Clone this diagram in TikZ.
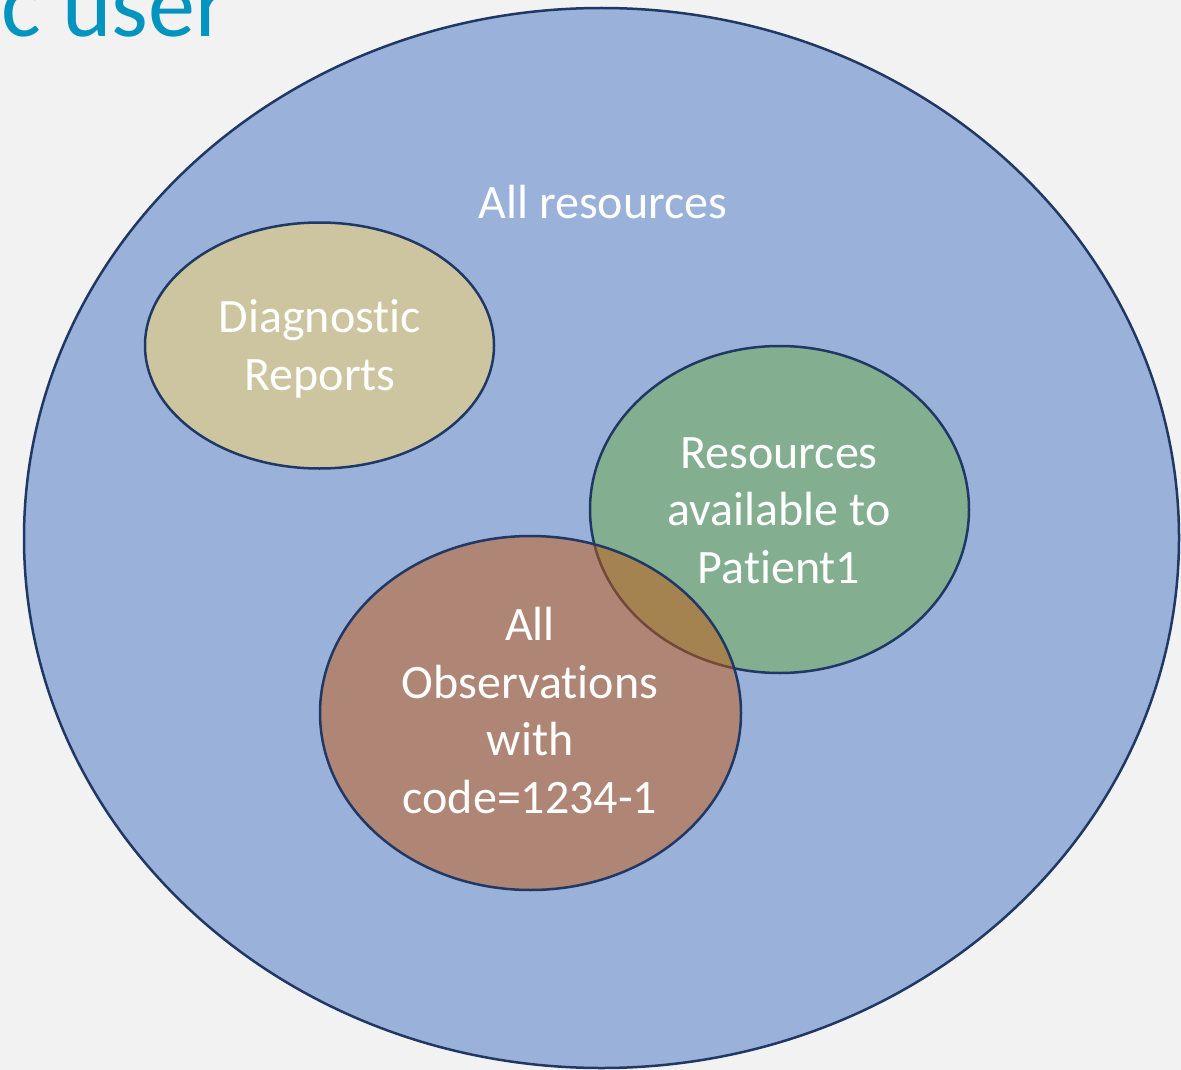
\documentclass[tikz,border=0pt]{standalone}
\usepackage{fontspec}
\setmainfont{Carlito}[Ligatures=NoCommon]
\usetikzlibrary{shapes.geometric}
\definecolor{pagebg}{HTML}{F2F2F2}
\definecolor{rimblue}{HTML}{203864}
\definecolor{setblue}{HTML}{4472C4}
\definecolor{setgold}{HTML}{FFD966}
\definecolor{setgreen}{HTML}{70AD47}
\definecolor{setorange}{HTML}{C55A11}
\definecolor{titleteal}{HTML}{0094BE}
\tikzset{
  venn/.style={ellipse, draw=rimblue, line width=2.5pt, fill opacity=0.5,
               inner sep=0pt, minimum width=#1},
  % anchored at the baseline of the last line
  setlabel/.style={text=white, font=\fontsize{48}{57.5}\selectfont,
                   align=center, inner sep=0pt, anchor=base},
}
\begin{document}
\begin{tikzpicture}[x=1pt,y=-1pt]
  % page
  \fill[pagebg] (0,0) rectangle (1181,1070);
  \useasboundingbox (0,0) rectangle (1181,1070);

  % title, running off the top edge
  \node[text=titleteal, font=\fontsize{94}{100}\selectfont, inner sep=0pt,
        anchor=base west] (title) at (1,37) {c user};

  % sets
  \node[venn=1155pt, minimum height=1060pt, fill=setblue] (all) at (601.5,538) {};
  \node[venn=349pt, minimum height=246pt, fill=setgold] (diag) at (319.5,345.5) {};
  \node[venn=379pt, minimum height=327pt, fill=setgreen] (pat) at (779.5,509.5) {};
  \node[venn=421pt, minimum height=354pt, fill=setorange] (obs) at (530.5,713) {};

  % labels
  \node[setlabel] (allL) at (603,218) {All resources};
  \node[setlabel] (diagL) at (320,390) {Diagnostic\\Reports};
  \node[setlabel] (patL) at (779,583) {Resources\\available to\\Patient1};
  \node[setlabel] (obsL) at (530,813) {All\\Observations\\with\\code=1234-1};
\end{tikzpicture}
\end{document}
